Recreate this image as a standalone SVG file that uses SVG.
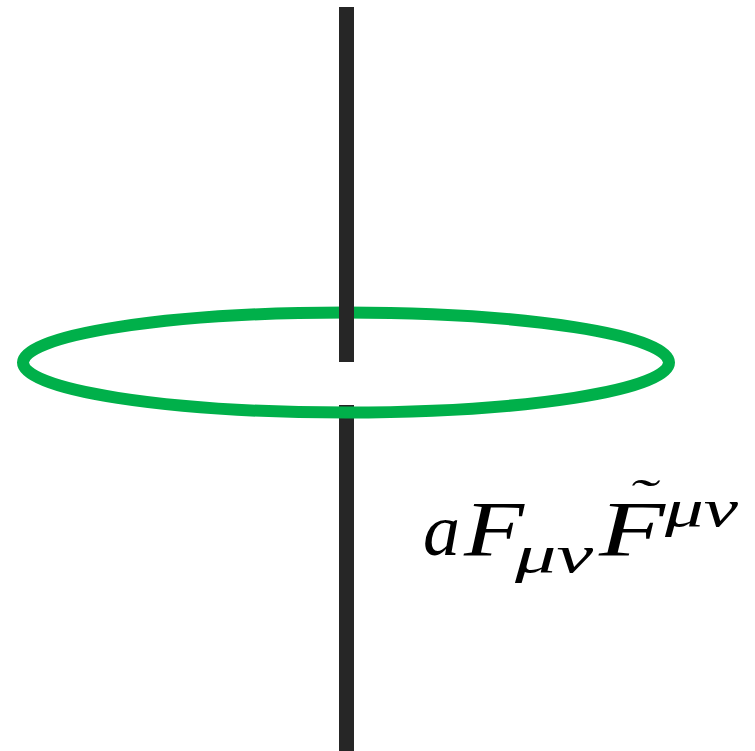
<svg xmlns="http://www.w3.org/2000/svg" width="755" height="751" viewBox="0 0 755 751">
<style>
.axis{stroke:#262626;stroke-width:15;fill:none}
.ring{stroke:#00B04A;stroke-width:12;fill:none}
.m{font-family:"Liberation Serif","DejaVu Serif",serif;font-style:italic;fill:#000}
</style>
<rect width="755" height="751" fill="#fff"/>
<g id="connectors">
<line id="axis-bottom" class="axis" x1="346.5" y1="405" x2="346.5" y2="751"/>
</g>
<g id="ring">
<ellipse class="ring" cx="346" cy="362.5" rx="323" ry="50"/>
</g>
<g id="axis-top-node">
<line class="axis" x1="346.5" y1="7" x2="346.5" y2="362"/>
</g>
<g id="label">
<text class="m" x="423" y="555" font-size="74">a</text>
<text class="m" x="464" y="555" font-size="78" textLength="60" lengthAdjust="spacingAndGlyphs">F</text>
<text class="m" x="515" y="572" font-size="52" textLength="78" lengthAdjust="spacingAndGlyphs">μν</text>
<text class="m" x="599" y="555" font-size="78" textLength="66" lengthAdjust="spacingAndGlyphs">F</text>
<text class="m" x="627" y="512" font-size="46" textLength="28" lengthAdjust="spacingAndGlyphs">˜</text>
<text class="m" x="665" y="526" font-size="52" textLength="73" lengthAdjust="spacingAndGlyphs">μν</text>
</g>
</svg>
